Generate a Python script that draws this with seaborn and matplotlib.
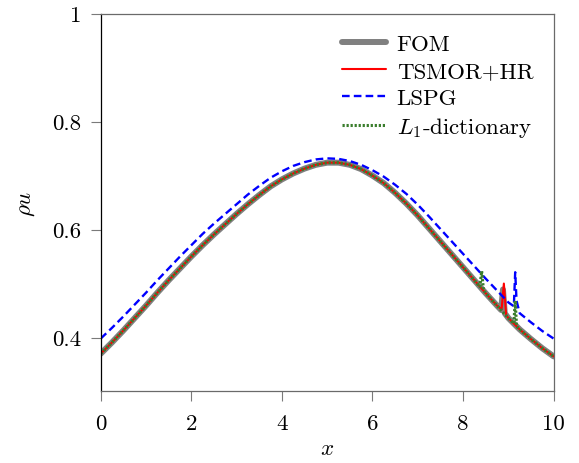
import matplotlib
matplotlib.use("Agg")
import matplotlib.pyplot as plt
import seaborn as sns
import pandas as pd

# ---------------- data ----------------
x_grid = [0.00, 0.25, 0.50, 0.75, 1.00, 1.25, 1.50, 1.75, 2.00, 2.25, 2.50,
          2.75, 3.00, 3.25, 3.50, 3.75, 4.00, 4.25, 4.50, 4.75, 5.00, 5.25,
          5.50, 5.75, 6.00, 6.25, 6.50, 6.75, 7.00, 7.25, 7.50, 7.75, 8.00,
          8.25, 8.50, 8.75, 9.00, 9.25, 9.50, 9.75, 10.00]

fom_vals = [0.370, 0.391, 0.413, 0.436, 0.459, 0.483, 0.506, 0.528, 0.550,
            0.571, 0.591, 0.610, 0.629, 0.647, 0.664, 0.680, 0.693, 0.704,
            0.713, 0.720, 0.724, 0.724, 0.720, 0.712, 0.700, 0.686, 0.668,
            0.648, 0.626, 0.602, 0.578, 0.554, 0.530, 0.506, 0.482, 0.459,
            0.436, 0.415, 0.397, 0.380, 0.365]

lspg_vals = [0.398, 0.418, 0.439, 0.461, 0.483, 0.506, 0.528, 0.550, 0.571,
             0.592, 0.611, 0.629, 0.647, 0.665, 0.681, 0.696, 0.708, 0.718,
             0.725, 0.730, 0.732, 0.731, 0.727, 0.720, 0.710, 0.698, 0.683,
             0.666, 0.646, 0.624, 0.601, 0.578, 0.555, 0.532, 0.509, 0.487,
             0.465, 0.445, 0.428, 0.412, 0.398]

# local oscillations (spikes) near the shock
fom_spike_x = [8.84, 8.88, 8.92]
fom_spike_y = [0.451, 0.489, 0.445]

tsmor_spike_x = [8.85, 8.90, 8.95]
tsmor_spike_y = [0.452, 0.500, 0.442]

lspg_spike_x = [9.12, 9.15, 9.18]
lspg_spike_y = [0.458, 0.521, 0.468]

l1_spike_x = [8.37, 8.41, 8.45, 9.12, 9.15, 9.18]
l1_spike_y = [0.494, 0.523, 0.488, 0.426, 0.468, 0.421]

labels = ["FOM", "TSMOR+HR", "LSPG", r"$L_1$-dictionary"]
y_ticks = [0.4, 0.6, 0.8, 1.0]
y_ticklabels = ["0.4", "0.6", "0.8", "1"]
x_ticks = [0, 2, 4, 6, 8, 10]


def series(xb, yb, xs, ys):
    df = pd.DataFrame({"x": list(xb) + list(xs), "v": list(yb) + list(ys)})
    return df.sort_values("x").reset_index(drop=True)


df_fom = series(x_grid, fom_vals, fom_spike_x, fom_spike_y)
df_tsmor = series(x_grid, fom_vals, tsmor_spike_x, tsmor_spike_y)
df_lspg = series(x_grid, lspg_vals, lspg_spike_x, lspg_spike_y)
df_l1 = series(x_grid, fom_vals, l1_spike_x, l1_spike_y)

# ---------------- style ----------------
sns.set_theme(style="white")
plt.rcParams.update({
    "font.family": "serif",
    "font.serif": ["cmr10", "DejaVu Serif"],
    "mathtext.fontset": "cm",
    "axes.formatter.use_mathtext": True,
    "lines.scale_dashes": False,
    "text.color": "black",
    "axes.labelcolor": "black",
    "xtick.color": "black",
    "ytick.color": "black",
})

FS = 16.5

fig = plt.figure(figsize=(5.79, 4.64), dpi=100)
ax = fig.add_axes([0.1739, 0.1541, 0.7824, 0.8142])

sns.lineplot(data=df_fom, x="x", y="v", ax=ax, color="#808080", lw=4.3,
             estimator=None, sort=False, label=labels[0])
sns.lineplot(data=df_tsmor, x="x", y="v", ax=ax, color="#ff0000", lw=1.5,
             estimator=None, sort=False, label=labels[1])
sns.lineplot(data=df_lspg, x="x", y="v", ax=ax, color="#0000ff", lw=1.7,
             estimator=None, sort=False, label=labels[2])
ax.lines[-1].set_dashes((5.5, 3.0))
sns.lineplot(data=df_l1, x="x", y="v", ax=ax, color="#3a7d2c", lw=2.2,
             estimator=None, sort=False, label=labels[3])
ax.lines[-1].set_dashes((1.6, 1.3))
for ln in ax.lines:
    ln.set_dash_capstyle("butt")

ax.set_xlim(0, 10)
ax.set_ylim(0.3, 1.0)
ax.set_xticks(x_ticks)
ax.set_xticklabels([str(t) for t in x_ticks])
ax.set_yticks(y_ticks)
ax.set_yticklabels(y_ticklabels)
ax.tick_params(axis="both", which="major", direction="out", length=7.5,
               width=0.8, color="#7a7a7a", labelsize=FS,
               bottom=True, left=True, top=False, right=False)
ax.tick_params(axis="x", pad=8)
ax.tick_params(axis="y", pad=6.5)

ax.set_xlabel(r"$x$", fontsize=FS, labelpad=4)
ax.set_ylabel(r"$\rho u$", fontsize=FS, labelpad=11)

for side in ["top", "right", "bottom"]:
    ax.spines[side].set_color("#6a6a6a")
    ax.spines[side].set_linewidth(0.9)
ax.spines["left"].set_color("black")
ax.spines["left"].set_linewidth(0.9)

h, l = ax.get_legend_handles_labels()
leg = ax.legend(h, l, loc="upper left", frameon=False, fontsize=FS,
                handlelength=1.95, handletextpad=0.45, labelspacing=0.3,
                borderpad=0, borderaxespad=0,
                bbox_to_anchor=(341.7 / 579, 1 - 35.0 / 464),
                bbox_transform=fig.transFigure)

fig.savefig("out.png", dpi=100)
